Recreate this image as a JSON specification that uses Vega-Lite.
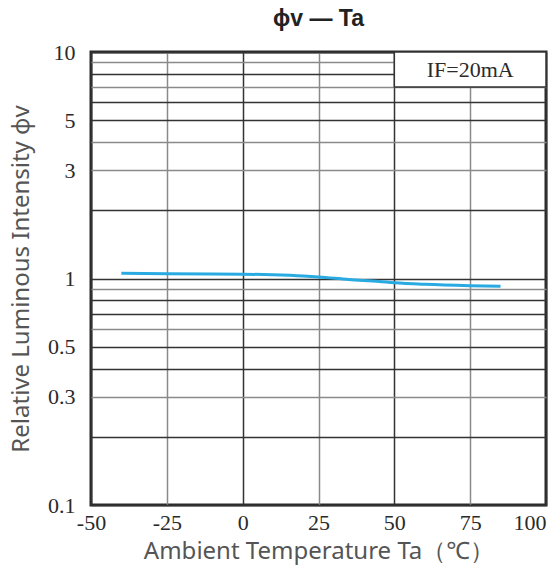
{
  "$schema": "https://vega.github.io/schema/vega-lite/v6.json",
  "autosize": "none",
  "width": 455,
  "height": 453,
  "padding": {"left": 91, "top": 52, "right": 12, "bottom": 66},
  "background": "white",
  "title": {
    "text": "ϕv — Ta",
    "font": "Liberation Sans",
    "fontSize": 23,
    "fontWeight": "bold",
    "color": "#222",
    "offset": 10,
    "anchor": "middle"
  },
  "config": {
    "view": {"stroke": "#2a2a2a", "strokeWidth": 3},
    "axis": {
      "domain": false,
      "ticks": false,
      "gridWidth": 1.5,
      "labelFont": "Liberation Serif",
      "labelFontSize": 22,
      "labelColor": "#2a2a2a",
      "titleFont": "Noto Sans",
      "titleFontSize": 24,
      "titleFontWeight": "normal",
      "titleColor": "#555"
    }
  },
  "data": {
    "values": [
      {"Ta": -40, "phiv": 1.055},
      {"Ta": -25, "phiv": 1.05},
      {"Ta": -10, "phiv": 1.047},
      {"Ta": 0, "phiv": 1.045},
      {"Ta": 10, "phiv": 1.038},
      {"Ta": 20, "phiv": 1.025},
      {"Ta": 25, "phiv": 1.015},
      {"Ta": 35, "phiv": 0.99},
      {"Ta": 45, "phiv": 0.97},
      {"Ta": 50, "phiv": 0.958},
      {"Ta": 60, "phiv": 0.943},
      {"Ta": 75, "phiv": 0.93},
      {"Ta": 85, "phiv": 0.925}
    ]
  },
  "layer": [
    {
      "mark": {"type": "line", "color": "#29abe2", "strokeWidth": 3, "interpolate": "monotone"},
      "encoding": {
        "x": {
          "field": "Ta",
          "type": "quantitative",
          "scale": {"domain": [-50, 100], "nice": false, "zero": false},
          "axis": {
            "values": [-50, -25, 0, 25, 50, 75, 100],
            "labelExpr": "datum.value < 0 ? '-' + abs(datum.value) : '' + datum.value",
            "labelAlign": {"condition": {"test": "datum.value == 100", "value": "right"}, "value": "center"},
            "labelPadding": 7,
            "labelFlush": false,
            "title": "Ambient Temperature  Ta（℃）",
            "titlePadding": 6,
            "gridColor": {"condition": {"test": "datum.value == -25 || datum.value == 25 || datum.value == 75", "value": "#8a8a8a"}, "value": "#333333"}
          }
        },
        "y": {
          "field": "phiv",
          "type": "quantitative",
          "scale": {"type": "log", "domain": [0.1, 10], "nice": false},
          "axis": {
            "values": [0.1, 0.2, 0.3, 0.4, 0.5, 0.6, 0.7, 0.8, 0.9, 1, 2, 3, 4, 5, 6, 7, 8, 9, 10],
            "labelExpr": "(datum.value == 0.1 || datum.value == 0.3 || datum.value == 0.5 || datum.value == 1 || datum.value == 3 || datum.value == 5 || datum.value == 10) ? format(datum.value, '~g') : ''",
            "labelPadding": 16,
            "labelFlush": false,
            "title": "Relative Luminous Intensity ϕv",
            "titlePadding": 14,
            "gridColor": {"condition": {"test": "datum.value == 9 || datum.value == 7 || datum.value == 4 || datum.value == 3 || datum.value == 0.9 || datum.value == 0.6 || datum.value == 0.3", "value": "#8a8a8a"}, "value": "#333333"}
          }
        }
      }
    },
    {
      "data": {"values": [{}]},
      "mark": {"type": "rect", "fill": "white", "stroke": "#333333", "strokeWidth": 1.5},
      "encoding": {
        "x": {"datum": 50, "type": "quantitative"},
        "x2": {"datum": 100},
        "y": {"datum": 7, "type": "quantitative"},
        "y2": {"datum": 10}
      }
    },
    {
      "data": {"values": [{}]},
      "mark": {"type": "text", "text": "IF=20mA", "font": "Liberation Serif", "fontSize": 22, "color": "#2a2a2a", "align": "center", "baseline": "middle"},
      "encoding": {
        "x": {"datum": 75, "type": "quantitative"},
        "y": {"datum": 8.3, "type": "quantitative"}
      }
    }
  ]
}
